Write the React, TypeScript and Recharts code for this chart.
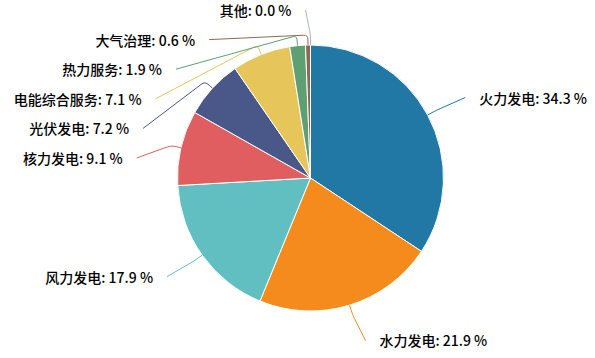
import React from 'react';
import { PieChart, Pie, Cell } from 'recharts';

const categories = ['火力发电', '水力发电', '风力发电', '核力发电', '光伏发电', '电能综合服务', '热力服务', '大气治理', '其他'];
const shares = [34.3, 21.9, 17.9, 9.1, 7.2, 7.1, 1.9, 0.6, 0.0];
const colors = ['#2278a4', '#f68b1d', '#61bfc1', '#e05e5f', '#4a5789', '#e6c65a', '#5e9f74', '#8c6a52', '#a8b4c6'];

const data = categories.map((name, i) => ({ name, value: shares[i] }));

const W = 595;
const H = 358;
const CX = 310.5;
const CY = 178;
const R = 133;
const LEN = 37;
const LEN2 = 5;
const L1 = 10;
const TEXT_GAP = 14;
const LINE_GAP = 29.6;
const TOP = 10;

type Lay = { x: number; y: number; dir: number; mid: number };

function computeLayout(): Lay[] {
  const total = shares.reduce((a, b) => a + b, 0);
  let cum = 0;
  const items: (Lay & { idx: number; x2: number })[] = shares.map((v, i) => {
    const mid = ((cum + v / 2) / total) * 2 * Math.PI;
    cum += v;
    const dir = mid >= Math.PI ? -1 : 1;
    const rA = R + LEN;
    const x2 = CX + rA * Math.sin(mid);
    const y = CY - rA * Math.cos(mid);
    return { idx: i, mid, dir, x2, x: x2 + dir * LEN2, y };
  });
  const out: Lay[] = new Array(items.length);
  [1, -1].forEach((side) => {
    const list = items.filter((it) => it.dir === side).sort((a, b) => a.y - b.y);
    let shifted = false;
    let prev = -Infinity;
    list.forEach((it) => {
      const ny = Math.max(it.y, prev + LINE_GAP, TOP);
      if (ny !== it.y) shifted = true;
      it.y = ny;
      prev = ny;
    });
    if (shifted) {
      const rA = R + LEN;
      const semis: Record<string, { maxY: number; rB: number; list: typeof list }> = {
        top: { maxY: 0, rB: rA, list: [] },
        bottom: { maxY: 0, rB: rA, list: [] },
      };
      list.forEach((it) => {
        const semi = it.y > CY ? semis.bottom : semis.top;
        const dy = Math.abs(it.y - CY);
        if (dy >= semi.maxY) {
          const dx = it.x2 - CX;
          semi.rB = Math.abs(dx) < rA ? Math.sqrt((dy * dy) / (1 - (dx * dx) / (rA * rA))) : rA;
          semi.maxY = dy;
        }
        semi.list.push(it);
      });
      Object.values(semis).forEach((semi) => {
        semi.list.forEach((it) => {
          const dy = Math.abs(it.y - CY);
          const k = Math.max(0, 1 - (dy * dy) / (semi.rB * semi.rB));
          it.x = CX + side * (Math.sqrt(k) * rA + LEN2);
        });
      });
    }
    list.forEach((it) => {
      out[it.idx] = { x: it.x, y: it.y, dir: it.dir, mid: it.mid };
    });
  });
  return out;
}

const LAYOUT = computeLayout();

function roundedPath(p1: number[], p2: number[], p3: number[]) {
  const d1 = Math.hypot(p2[0] - p1[0], p2[1] - p1[1]);
  const d2 = Math.hypot(p3[0] - p2[0], p3[1] - p2[1]);
  const rr = Math.min(4, d1 / 2, d2 / 2);
  const a = [p2[0] - ((p2[0] - p1[0]) / (d1 || 1)) * rr, p2[1] - ((p2[1] - p1[1]) / (d1 || 1)) * rr];
  const b = [p2[0] + ((p3[0] - p2[0]) / (d2 || 1)) * rr, p2[1] + ((p3[1] - p2[1]) / (d2 || 1)) * rr];
  return `M${p1[0]},${p1[1]} L${a[0]},${a[1]} Q${p2[0]},${p2[1]} ${b[0]},${b[1]} L${p3[0]},${p3[1]}`;
}

const renderLabel = (props: any) => {
  const { index, cx, cy, outerRadius, midAngle } = props;
  const lay = LAYOUT[index];
  if (!lay) return null;
  const rad = (-midAngle * Math.PI) / 180;
  const p1 = [cx + outerRadius * Math.cos(rad), cy + outerRadius * Math.sin(rad)];
  const p2 = [cx + (outerRadius + L1) * Math.cos(rad), cy + (outerRadius + L1) * Math.sin(rad)];
  const p3 = [lay.x, lay.y];
  const text = `${categories[index]}: ${shares[index].toFixed(1)} %`;
  return (
    <g key={`lbl-${index}`}>
      <path d={roundedPath(p1, p2, p3)} stroke={colors[index]} strokeWidth={1} fill="none" />
      <text
        x={lay.x + lay.dir * TEXT_GAP}
        y={lay.y}
        textAnchor={lay.dir > 0 ? 'start' : 'end'}
        dominantBaseline="central"
        fontSize={14}
        fontWeight={500}
        fill="#000"
        fontFamily="'Noto Sans CJK SC', 'Noto Sans', sans-serif"
      >
        {text}
      </text>
    </g>
  );
};

export default function App() {
  return (
    <div style={{ position: 'absolute', left: 0, top: 0, width: W, height: H, background: '#fff' }}>
      <PieChart width={W} height={H} margin={{ top: 0, right: 0, bottom: 0, left: 0 }}>
        <Pie
          data={data}
          dataKey="value"
          nameKey="name"
          cx={CX}
          cy={CY}
          outerRadius={R}
          innerRadius={0}
          startAngle={90}
          endAngle={-270}
          stroke="#fff"
          strokeWidth={1}
          label={renderLabel}
          labelLine={false}
          isAnimationActive={false}
        >
          {data.map((d, i) => (
            <Cell key={d.name} fill={colors[i]} stroke="#fff" strokeWidth={1} />
          ))}
        </Pie>
      </PieChart>
    </div>
  );
}
